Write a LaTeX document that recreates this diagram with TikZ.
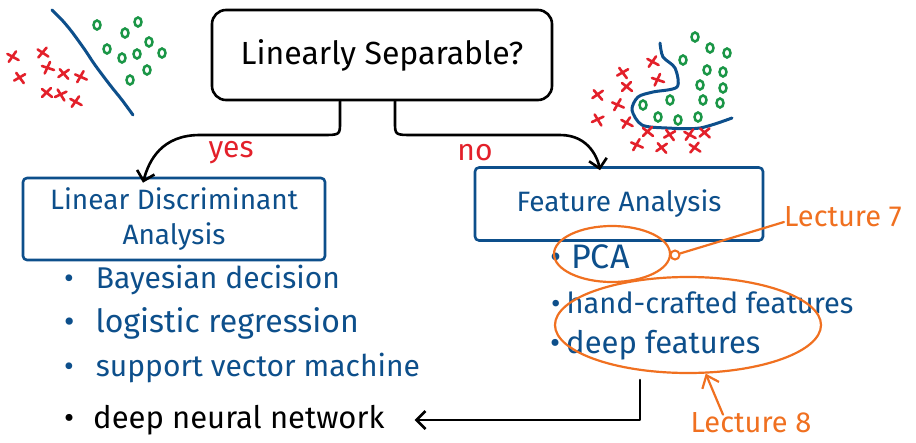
\documentclass[tikz,border=0pt]{standalone}
\usepackage{fontspec}
\setmainfont{Fira Sans}
\usetikzlibrary{arrows.meta,shapes.geometric}
\definecolor{hblue}{HTML}{0D4F8B}
\definecolor{hred}{HTML}{E3202A}
\definecolor{hgreen}{HTML}{1A9646}
\definecolor{horange}{HTML}{F07020}
\newcommand\hsz[1]{\fontsize{#1}{#1}\selectfont}
\tikzset{
  stroke/.style={line width=2.6pt,line cap=round,line join=round},
  qbox/.style={draw=black,stroke,rounded corners=14pt,minimum width=340pt,minimum height=90pt,inner sep=0pt},
  bbox/.style={draw=hblue,stroke,rounded corners=4pt,inner sep=0pt,text=hblue},
  conn/.style={draw=black,stroke,-{Straight Barb[length=9pt,width=18pt]}},
  lbl/.style={inner sep=0pt},
  item/.style={inner sep=0pt,anchor=west,text=hblue},
  oell/.style={draw=horange,ellipse,line width=2.2pt,inner sep=0pt},
  oline/.style={draw=horange,line width=2.2pt,line cap=round,line join=round},
  redx/.pic={\draw[hred,line width=2.6pt,line cap=round] (-5,-4)--(5,4) (-5,4)--(4,-5);},
  greeno/.pic={\draw[hgreen,line width=2.5pt] (0,0) ellipse (3.5pt and 4.5pt);}
}
\begin{document}
\begin{tikzpicture}[x=1pt,y=-1pt]
\useasboundingbox[fill=white] (0,0) rectangle (916,442);

% ---------- top-left scatter ----------
\draw[hblue,line width=3pt,line cap=round] plot[smooth] coordinates {(52,10) (62,20) (72,32) (85,50) (95,65) (110,85) (122,100) (133,115)};
\foreach \x/\y/\r in {13/57/10,20/78/-15,43/53/5,48/68/20,64/74/-10,81/77/15,47/93/0,61/95/-20,76/102/10}
  \pic[rotate=\r] at (\x,\y) {redx};
\foreach \x/\y in {97/25,138/22,125/33,107/49,122/58,137/54,149/42,162/53,147/70,130/80}
  \pic at (\x,\y) {greeno};

% ---------- top-right scatter ----------
\draw[hblue,line width=3pt,line cap=round] plot[smooth] coordinates {(660,43) (663,57) (675,68) (677,87) (653,92) (638,97) (632,110) (642,125) (667,128) (700,128) (732,118)};
\foreach \x/\y in {695/37,710/48,727/53,683/60,707/70,723/72,700/85,723/88,703/100,720/103,670/100,643/105,658/117,678/120,698/117}
  \pic at (\x,\y) {greeno};
\foreach \x/\y/\r in {653/62/10,623/73/-15,658/80/20,627/87/0,598/95/-10,618/105/15,598/120/-20,627/123/10,648/132/0,670/135/-15,690/135/10,705/133/-5,637/145/15,662/148/-10,695/148/5}
  \pic[rotate=\r] at (\x,\y) {redx};

% ---------- question box ----------
\node[qbox,font=\hsz{32}] (q) at (382,55) {Linearly Separable?};

% ---------- branch boxes ----------
\node[bbox,minimum width=302pt,minimum height=82pt,align=center,font=\fontsize{28}{35}\selectfont] (lda) at (174,219)
  {Linear Discriminant\\Analysis};
\node[bbox,minimum width=288pt,minimum height=73pt,font=\hsz{28}] (fa) at (619,204)
  {Feature Analysis};

% ---------- connectors ----------
\draw[conn] ([xshift=-42pt]q.south) -- (340,122) .. controls (340,135) .. (322,135) -- (200,135)
  .. controls (162,135) and (149,160) .. ([xshift=-31pt,yshift=-6pt]lda.north);
\draw[conn] ([xshift=13pt]q.south) -- (395,122) .. controls (395,135) .. (413,135) -- (560,135)
  .. controls (590,135) and (598,160) .. ([xshift=-19pt,yshift=-4pt]fa.north);
\node[lbl,text=hred,font=\hsz{30}] (yes) at (231,153) {yes};
\node[lbl,text=hred,font=\hsz{30}] (no) at (475,153) {no};

% ---------- left items ----------
\node[item,font=\hsz{30}] (b1) at (64,280) {\textbullet\hspace{22pt}Bayesian decision};
\node[item,font=\hsz{32}] (b2) at (64,323) {\textbullet\hspace{21pt}logistic regression};
\node[item,font=\hsz{30}] (b3) at (64,368) {\textbullet\hspace{22pt}support vector machine};
\node[item,text=black,font=\hsz{31}] (dnn) at (64,420) {\textbullet\hspace{19pt}deep neural network};

% ---------- right items ----------
\node[item,font=\hsz{34}] (pca) at (550,257) {\textbullet\hspace{10pt}PCA};
\node[item,font=\hsz{29}] (hcf) at (551,303) {\textbullet\hspace{6pt}hand-crafted features};
\node[item,font=\hsz{31}] (dpf) at (550,345) {\textbullet\hspace{6pt}deep features};

% ---------- orange annotations ----------
\node[oell,minimum width=116pt,minimum height=56pt] (e1) at (612,254) {};
\node[oell,minimum width=266pt,minimum height=96pt] (e2) at (688,325) {};
\node[circle,draw=horange,line width=2pt,minimum size=9pt,inner sep=0pt] (sc) at (675,255) {};
\node[lbl,text=horange,anchor=west,font=\hsz{29}] (l7) at (784,217) {Lecture 7};
\draw[oline] ([yshift=-5pt]l7.west) -- (sc);
\node[lbl,text=horange,font=\hsz{29}] (l8) at (751,423) {Lecture 8};
\draw[oline,-{Straight Barb[length=11pt,width=18pt]}] ([xshift=-28pt,yshift=-2pt]l8.north) -- (e2.-70);

% ---------- back connector ----------
\coordinate (c1) at (640,380);
\draw[conn] (c1) -- (640,420) -- ([xshift=30pt]dnn.east);
\end{tikzpicture}
\end{document}
